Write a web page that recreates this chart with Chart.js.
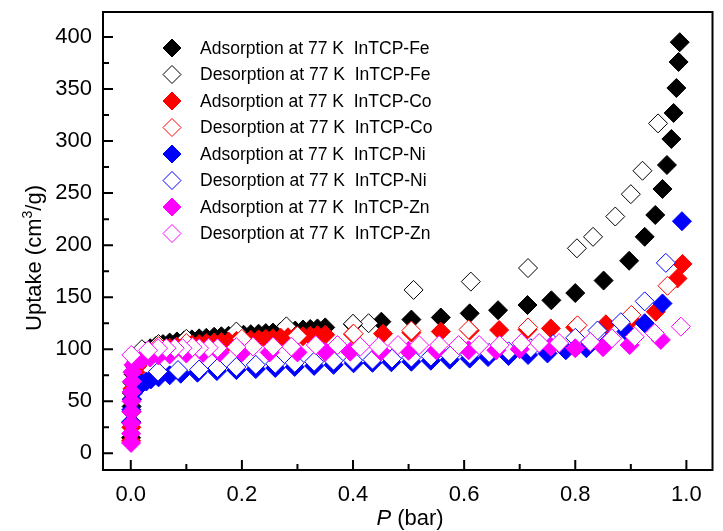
<!DOCTYPE html>
<html lang="en">
<head>
<meta charset="utf-8">
<script src="https://cdn.jsdelivr.net/npm/chart.js@4.4.1/dist/chart.umd.min.js"></script>
<title>InTCP uptake at 77 K</title>
<style>
  html, body { margin: 0; padding: 0; background: #fff; }
  #wrap { width: 723px; height: 531px; }
</style>
</head>
<body>
<div id="wrap"><canvas id="iso" width="723" height="531"></canvas></div>
<script>
// axis ticks
const xTicks = [0, 0.2, 0.4, 0.6, 0.8, 1.0];
const xMinor = [0.1, 0.3, 0.5, 0.7, 0.9];
const yTicks = [0, 50, 100, 150, 200, 250, 300, 350, 400];
const yMinor = [25, 75, 125, 175, 225, 275, 325, 375];

// InTCP-Fe
const feAdsP = [0.0005, 0.001, 0.0015, 0.002, 0.003, 0.005, 0.008, 0.012, 0.018, 0.025, 0.035, 0.045, 0.058, 0.07, 0.083, 0.096, 0.11, 0.123, 0.136, 0.15, 0.163, 0.176, 0.19, 0.203, 0.216, 0.23, 0.243, 0.256, 0.27, 0.283, 0.296, 0.31, 0.323, 0.336, 0.35, 0.4, 0.451, 0.505, 0.558, 0.61, 0.661, 0.714, 0.757, 0.8, 0.851, 0.897, 0.925, 0.944, 0.957, 0.965, 0.973, 0.977, 0.982, 0.986, 0.988];
const feAdsU = [15, 30, 45, 58, 68, 76, 83, 89, 94, 98, 101, 103, 105, 106.5, 107.5, 108.5, 109.5, 110.5, 111, 112, 112.5, 113, 113.5, 114, 114.5, 115, 115.5, 116, 117, 117.5, 118, 119, 119.5, 120, 121, 124, 126.5, 128.5, 130.5, 134.5, 137.5, 142.5, 147, 154, 166, 185, 208, 229, 254, 277, 302, 327, 351, 376, 395];
const feDesP = [0.949, 0.921, 0.9, 0.872, 0.832, 0.803, 0.715, 0.612, 0.509, 0.428, 0.4, 0.28, 0.19, 0.1, 0.05, 0.02];
const feDesU = [317, 271.5, 249, 227.5, 208, 197, 178, 165, 157, 125, 124.5, 122, 117, 110, 105, 100];

// InTCP-Co
const coAdsP = [0.0005, 0.001, 0.0015, 0.002, 0.003, 0.005, 0.008, 0.012, 0.018, 0.025, 0.035, 0.045, 0.058, 0.07, 0.083, 0.096, 0.11, 0.123, 0.136, 0.15, 0.163, 0.176, 0.19, 0.203, 0.216, 0.23, 0.243, 0.256, 0.27, 0.283, 0.296, 0.31, 0.323, 0.336, 0.35, 0.4, 0.454, 0.505, 0.558, 0.61, 0.663, 0.714, 0.756, 0.8, 0.855, 0.9, 0.945, 0.984, 0.993];
const coAdsU = [12, 25, 40, 52, 62, 70, 78, 84, 89, 93, 96, 98, 100, 101.5, 102.5, 103.5, 104.5, 105, 106, 106.5, 107, 107.5, 108, 108.5, 109, 109.5, 110, 110.5, 111, 111.5, 112, 112.5, 113, 113.5, 114, 114.5, 115, 116, 117, 118, 118.5, 119, 120, 121, 124, 128, 136, 168, 182];
const coDesP = [0.966, 0.901, 0.804, 0.715, 0.608, 0.505, 0.401, 0.3, 0.2, 0.1, 0.05];
const coDesU = [161, 133, 123, 121, 119, 118, 115, 113, 110, 106, 103];

// InTCP-Ni
const niAdsP = [0.0005, 0.001, 0.002, 0.004, 0.008, 0.014, 0.02, 0.028, 0.036, 0.05, 0.07, 0.09, 0.12, 0.155, 0.19, 0.225, 0.26, 0.295, 0.33, 0.365, 0.401, 0.435, 0.469, 0.505, 0.54, 0.574, 0.61, 0.643, 0.68, 0.715, 0.75, 0.783, 0.82, 0.86, 0.892, 0.925, 0.957, 0.992];
const niAdsU = [30, 42, 52, 58, 62, 65, 67, 69, 71, 73, 75, 76.5, 77.5, 79, 80, 81, 82, 83, 84, 85, 86.5, 87, 87.5, 88, 89, 90, 91, 92.5, 93.5, 94.5, 96, 99, 101, 108, 117, 125, 144, 223];
const niDesP = [0.963, 0.925, 0.882, 0.84, 0.8, 0.76, 0.72, 0.68, 0.645, 0.61, 0.575, 0.54, 0.505, 0.47, 0.435, 0.4, 0.365, 0.33, 0.295, 0.26, 0.225, 0.19, 0.156, 0.123, 0.085, 0.049];
const niDesU = [183, 146, 126, 118, 111, 105, 101, 98, 96.5, 95, 94, 93, 92, 91, 90, 89.5, 89, 88, 87, 86, 85, 83, 82, 80.5, 80, 78.5];

// InTCP-Zn
const znAdsP = [0.0005, 0.0007, 0.0009, 0.0011, 0.0013, 0.0015, 0.002, 0.003, 0.005, 0.01, 0.02, 0.035, 0.05, 0.07, 0.1, 0.13, 0.16, 0.2, 0.25, 0.3, 0.35, 0.395, 0.45, 0.5, 0.55, 0.608, 0.658, 0.7, 0.756, 0.8, 0.85, 0.898, 0.954];
const znAdsU = [10, 19, 29, 40, 50, 59, 69, 78, 85, 88, 90, 92, 94, 95, 96, 96.5, 97, 97, 97, 97, 97.5, 97.7, 98, 98.5, 99, 99, 99, 100, 102.5, 101, 102, 104, 109];
const znDesP = [0.99, 0.943, 0.907, 0.866, 0.827, 0.771, 0.735, 0.703, 0.664, 0.627, 0.59, 0.555, 0.519, 0.481, 0.446, 0.413, 0.372, 0.333, 0.289, 0.256, 0.22, 0.19, 0.156, 0.14, 0.123, 0.111, 0.093, 0.079, 0.064, 0.049, 0.031, 0.001];
const znDesU = [121.7, 115.4, 112, 110.5, 107, 106, 106, 106, 104, 104, 104, 104, 104, 104, 102.5, 102.5, 104, 104, 102.5, 102.5, 102.5, 102, 101, 101.5, 101, 102, 101, 101, 101, 101, 99, 94.5];

const seriesLabels = [
  'Adsorption at 77 K  InTCP-Fe', 'Desorption at 77 K  InTCP-Fe',
  'Adsorption at 77 K  InTCP-Co', 'Desorption at 77 K  InTCP-Co',
  'Adsorption at 77 K  InTCP-Ni', 'Desorption at 77 K  InTCP-Ni',
  'Adsorption at 77 K  InTCP-Zn', 'Desorption at 77 K  InTCP-Zn'
];

const FONT = "'Liberation Sans', Arial, sans-serif";
const colors = ['#000000', '#000000', '#ff0000', '#ff0000', '#0000ff', '#0000ff', '#ff00ff', '#ff00ff'];
const filled = [true, false, true, false, true, false, true, false];
const series = [
  [feAdsP, feAdsU], [feDesP, feDesU], [coAdsP, coAdsU], [coDesP, coDesU],
  [niAdsP, niAdsU], [niDesP, niDesU], [znAdsP, znAdsU], [znDesP, znDesU]
];

function zip(px, py) {
  const n = Math.min(px.length, py.length);
  const out = [];
  for (let i = 0; i < n; i++) out.push({x: px[i], y: py[i]});
  return out;
}

const datasets = series.map((s, i) => ({
  label: seriesLabels[i],
  data: zip(s[0], s[1]),
  pointStyle: 'rectRot',
  pointRadius: 9.5,
  pointBorderWidth: 1,
  pointBorderColor: colors[i],
  pointBackgroundColor: filled[i] ? colors[i] : '#ffffff',
  showLine: false,
  order: series.length - i  // later series sit on top
}));

function diamond(ctx, cx, cy, r, col, solid) {
  ctx.beginPath();
  ctx.moveTo(cx - r, cy);
  ctx.lineTo(cx, cy - r);
  ctx.lineTo(cx + r, cy);
  ctx.lineTo(cx, cy + r);
  ctx.closePath();
  ctx.fillStyle = solid ? col : '#ffffff';
  ctx.fill();
  ctx.lineWidth = 1;
  ctx.strokeStyle = col;
  ctx.stroke();
}

const decor = {
  id: 'decor',
  afterDraw(chart) {
    const ctx = chart.ctx;
    const a = chart.chartArea;
    const x = chart.scales.x, y = chart.scales.y;
    ctx.save();

    // frame + inward ticks
    ctx.strokeStyle = '#000';
    ctx.lineWidth = 2;
    ctx.strokeRect(a.left, a.top, a.right - a.left, a.bottom - a.top);
    ctx.beginPath();
    xTicks.forEach(v => { const p = x.getPixelForValue(v); ctx.moveTo(p, a.bottom); ctx.lineTo(p, a.bottom - 10); });
    xMinor.forEach(v => { const p = x.getPixelForValue(v); ctx.moveTo(p, a.bottom); ctx.lineTo(p, a.bottom - 6); });
    yTicks.forEach(v => { const p = y.getPixelForValue(v); ctx.moveTo(a.left, p); ctx.lineTo(a.left + 10, p); });
    yMinor.forEach(v => { const p = y.getPixelForValue(v); ctx.moveTo(a.left, p); ctx.lineTo(a.left + 6, p); });
    ctx.stroke();

    // legend
    ctx.font = '17.5px ' + FONT;
    ctx.textBaseline = 'middle';
    ctx.textAlign = 'left';
    seriesLabels.forEach((t, i) => {
      const cy = 48 + i * 26.5;
      diamond(ctx, 172, cy, 9, colors[i], filled[i]);
      ctx.fillStyle = '#000';
      ctx.fillText(t, 200, cy + 1);
    });

    // y title with superscript
    ctx.save();
    ctx.translate(33, 258);
    ctx.rotate(-Math.PI / 2);
    ctx.textBaseline = 'alphabetic';
    const big = '22px ' + FONT, small = '14px ' + FONT;
    const parts = [['Uptake (cm', big, 0], ['3', small, -9], ['/g)', big, 0]];
    let w = 0;
    parts.forEach(p => { ctx.font = p[1]; w += ctx.measureText(p[0]).width; });
    let cx = -w / 2;
    ctx.fillStyle = '#000';
    parts.forEach(p => { ctx.font = p[1]; ctx.fillText(p[0], cx, 8 + p[2]); cx += ctx.measureText(p[0]).width; });
    ctx.restore();

    // x title, italic P
    const it = 'italic 22px ' + FONT, rg = '22px ' + FONT;
    ctx.textBaseline = 'alphabetic';
    ctx.font = it; const w1 = ctx.measureText('P').width;
    ctx.font = rg; const w2 = ctx.measureText(' (bar)').width;
    let sx = 410 - (w1 + w2) / 2;
    ctx.fillStyle = '#000';
    ctx.font = it; ctx.fillText('P', sx, 525);
    ctx.font = rg; ctx.fillText(' (bar)', sx + w1, 525);

    ctx.restore();
  }
};

Chart.defaults.font.family = FONT;
Chart.defaults.color = '#000';

new Chart(document.getElementById('iso'), {
  type: 'scatter',
  data: { datasets: datasets },
  options: {
    responsive: false,
    animation: false,
    events: [],
    layout: { padding: { top: 12, right: 2, left: 0, bottom: 0 } },
    plugins: { legend: { display: false }, tooltip: { enabled: false } },
    scales: {
      x: {
        type: 'linear',
        min: -0.05,
        max: 1.047,
        afterBuildTicks: s => { s.ticks = xTicks.map(v => ({value: v})); },
        afterFit: s => { s.height = 61; s.paddingLeft = 0; s.paddingRight = 0; },
        grid: { display: false },
        border: { display: false },
        ticks: { font: { size: 22 }, padding: 4, maxRotation: 0, callback: v => v.toFixed(1) }
      },
      y: {
        type: 'linear',
        min: -16,
        max: 424,
        afterBuildTicks: s => { s.ticks = yTicks.map(v => ({value: v})); },
        afterFit: s => { s.width = 103; s.paddingTop = 0; s.paddingBottom = 0; },
        grid: { display: false },
        border: { display: false },
        ticks: { font: { size: 22 }, padding: 3, callback: v => String(v) }
      }
    }
  },
  plugins: [decor]
});
</script>
</body>
</html>
